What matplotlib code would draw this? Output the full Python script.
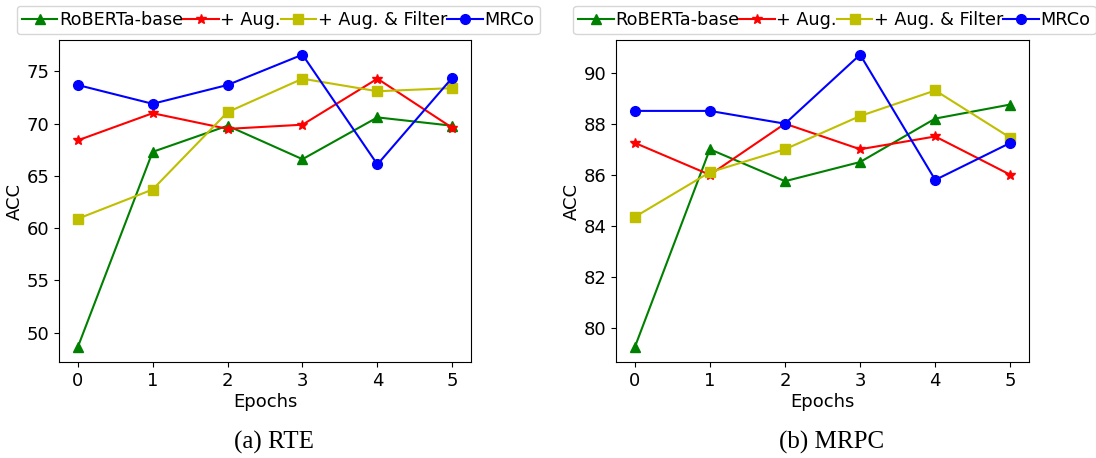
import numpy as np
import matplotlib.pyplot as plt

epochs = [0, 1, 2, 3, 4, 5]
labels = ['RoBERTa-base', '+ Aug.', '+ Aug. & Filter', 'MRCo']

rte_base = [48.6, 67.3, 69.8, 66.6, 70.6, 69.8]
rte_aug = [68.4, 71.0, 69.5, 69.9, 74.3, 69.6]
rte_filter = [60.9, 63.7, 71.1, 74.3, 73.1, 73.4]
rte_mrco = [73.7, 71.9, 73.7, 76.6, 66.1, 74.4]

mrpc_base = [79.25, 87.0, 85.75, 86.5, 88.2, 88.75]
mrpc_aug = [87.25, 86.0, 88.0, 87.0, 87.5, 86.0]
mrpc_filter = [84.35, 86.1, 87.0, 88.3, 89.3, 87.45]
mrpc_mrco = [88.5, 88.5, 88.0, 90.7, 85.8, 87.25]

styles = [('g', '^'), ('r', '*'), ('y', 's'), ('b', 'o')]


def draw(ax, series, legend_x, legend_loc):
    for vals, (c, m), lab in zip(series, styles, labels):
        ax.plot(epochs, vals, color=c, marker=m, label=lab, linewidth=1.5, markersize=7)
    ax.set_xticks(epochs)
    ax.set_xlabel('Epochs', fontsize=13, labelpad=2)
    ax.set_ylabel('ACC', fontsize=13, labelpad=2)
    ax.tick_params(labelsize=13)
    ax.legend(loc=legend_loc, bbox_to_anchor=(legend_x, 1.107), ncol=4, fontsize=12.7,
              handlelength=2.0, handletextpad=0.1, columnspacing=0.0, borderpad=0.3,
              borderaxespad=0.0)


def main():
    fig = plt.figure(figsize=(10.96, 4.58), dpi=100)
    ax1 = fig.add_axes([0.0538, 0.2096, 0.376, 0.703])
    ax2 = fig.add_axes([0.562, 0.2096, 0.377, 0.703])
    draw(ax1, [rte_base, rte_aug, rte_filter, rte_mrco], 0.532, 'upper center')
    draw(ax2, [mrpc_base, mrpc_aug, mrpc_filter, mrpc_mrco], -0.104, 'upper left')
    ax1.set_yticks([50, 55, 60, 65, 70, 75])
    ax2.set_yticks([80, 82, 84, 86, 88, 90])
    fig.text(274 / 1096, 1 - 442 / 458, '(a) RTE', ha='center', va='center',
             family='Liberation Serif', fontsize=18)
    fig.text(832 / 1096, 1 - 442 / 458, '(b) MRPC', ha='center', va='center',
             family='Liberation Serif', fontsize=18)
    fig.savefig('out.png', dpi=100)


if __name__ == '__main__':
    main()
